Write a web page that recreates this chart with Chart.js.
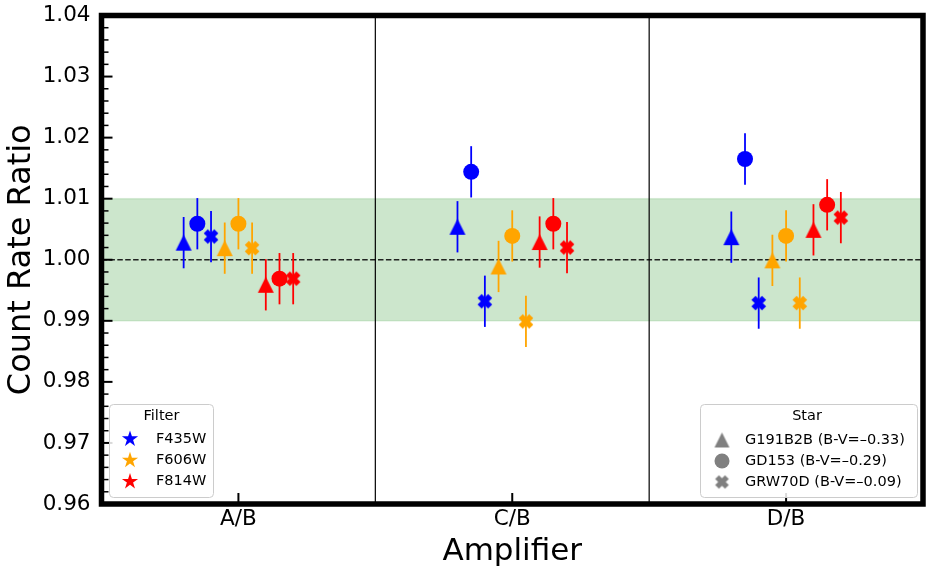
<!DOCTYPE html>
<html>
<head>
<meta charset="utf-8">
<script src="https://cdn.jsdelivr.net/npm/chart.js@4/dist/chart.umd.min.js"></script>
<style>
  html, body { margin: 0; padding: 0; background: #fff; }
  #wrap { width: 933px; height: 576px; position: relative; }
</style>
</head>
<body>
<div id="wrap"><canvas id="chart"></canvas></div>
<script>
// Categories
const amplifiers = ["A/B", "C/B", "D/B"];
const filters = ["F435W", "F606W", "F814W"];
const filterColors = ["#0000ff", "#ffa500", "#ff0000"];
const stars = ["G191B2B (B-V=–0.33)", "GD153 (B-V=–0.29)", "GRW70D (B-V=–0.09)"];

// Count rate ratio per amplifier (A/B, C/B, D/B)
const f435wG191b2b = [1.0028, 1.0054, 1.0037];
const f435wGd153 = [1.0059, 1.0144, 1.0165];
const f435wGrw70d = [1.0038, 0.9932, 0.9929];
const f606wG191b2b = [1.0019, 0.9989, 0.9999];
const f606wGd153 = [1.0059, 1.0039, 1.0039];
const f606wGrw70d = [1.0019, 0.9899, 0.9929];
const f814wG191b2b = [0.9959, 1.0029, 1.0049];
const f814wGd153 = [0.9969, 1.0059, 1.0090];
const f814wGrw70d = [0.9969, 1.0020, 1.0069];

// 1-sigma errors
const f435wErr = [0.0042, 0.0042, 0.0042];
const f606wErr = [0.0042, 0.0042, 0.0042];
const f814wErr = [0.0042, 0.0042, 0.0042];

const ratios = [
  [f435wG191b2b, f435wGd153, f435wGrw70d],
  [f606wG191b2b, f606wGd153, f606wGrw70d],
  [f814wG191b2b, f814wGd153, f814wGrw70d],
];
const errors = [f435wErr, f606wErr, f814wErr];

const bandRange = [0.99, 1.01];
const refLine = 1.0;
const separators = [0.5, 1.5];

// marker images
function triangleImg(color, s) {
  const c = document.createElement("canvas");
  c.width = s + 2; c.height = s + 2;
  const g = c.getContext("2d");
  g.fillStyle = color;
  g.beginPath();
  g.moveTo(1 + s / 2, 1);
  g.lineTo(1, 1 + s);
  g.lineTo(1 + s, 1 + s);
  g.closePath();
  g.fill();
  return c;
}
function crossImg(color, s) {
  const c = document.createElement("canvas");
  c.width = s + 2; c.height = s + 2;
  const g = c.getContext("2d");
  const m = s * 0.17 + 1, n = s + 1 - s * 0.17;
  g.strokeStyle = color;
  g.lineWidth = s * 0.36;
  g.lineCap = "butt";
  g.beginPath();
  g.moveTo(m, m); g.lineTo(n, n);
  g.moveTo(n, m); g.lineTo(m, n);
  g.stroke();
  return c;
}
function drawStar(ctx, x, y, r, color) {
  ctx.fillStyle = color;
  ctx.beginPath();
  for (let k = 0; k < 10; k++) {
    const rr = k % 2 === 0 ? r : r * 0.382;
    const ang = -Math.PI / 2 + k * Math.PI / 5;
    const px = x + rr * Math.cos(ang), py = y + rr * Math.sin(ang);
    if (k === 0) ctx.moveTo(px, py); else ctx.lineTo(px, py);
  }
  ctx.closePath();
  ctx.fill();
}

const datasets = [];
filters.forEach((f, fi) => {
  stars.forEach((s, si) => {
    const off = (fi * 3 + si - 4) * 0.05;
    const color = filterColors[fi];
    let style = "circle";
    if (si === 0) style = triangleImg(color, 16);
    if (si === 2) style = crossImg(color, 16);
    datasets.push({
      label: f + " " + s,
      data: amplifiers.map((a, ai) => ({ x: ai + off, y: ratios[fi][si][ai] })),
      errors: errors[fi],
      pointStyle: style,
      pointRadius: 8,
      pointHoverRadius: 8,
      backgroundColor: color,
      borderColor: color,
      borderWidth: 0,
    });
  });
});

const isMajor = (v) => Math.abs(v * 100 - Math.round(v * 100)) < 1e-6;

const FONT = "'DejaVu Sans', sans-serif";

function legendBox(ctx, x, y, w, h, title, titleX, rows) {
  ctx.save();
  ctx.fillStyle = "rgba(255,255,255,0.85)";
  ctx.strokeStyle = "#cccccc";
  ctx.lineWidth = 1;
  ctx.beginPath();
  ctx.roundRect(x + 0.5, y + 0.5, w, h, 4);
  ctx.fill();
  ctx.stroke();
  ctx.fillStyle = "#000";
  ctx.font = "14.5px " + FONT;
  ctx.textBaseline = "middle";
  ctx.textAlign = "center";
  ctx.fillText(title, titleX, y + 12);
  ctx.textAlign = "left";
  rows.forEach((r) => {
    r.draw(ctx);
    ctx.fillStyle = "#000";
    ctx.fillText(r.text, r.tx, r.ty);
  });
  ctx.restore();
}

const decor = {
  id: "decor",
  beforeDatasetsDraw(chart) {
    const { ctx, chartArea: a, scales: { x, y } } = chart;
    ctx.save();
    const yTop = y.getPixelForValue(bandRange[1]);
    const yBot = y.getPixelForValue(bandRange[0]);
    ctx.fillStyle = "rgba(0,128,0,0.2)";
    ctx.fillRect(a.left, yTop, a.right - a.left, yBot - yTop);
    ctx.strokeStyle = "rgba(0,128,0,0.12)";
    ctx.lineWidth = 1.5;
    ctx.strokeRect(a.left, yTop, a.right - a.left, yBot - yTop);

    ctx.strokeStyle = "#000";
    ctx.lineWidth = 1.2;
    separators.forEach((v) => {
      const px = x.getPixelForValue(v);
      ctx.beginPath();
      ctx.moveTo(px, a.top);
      ctx.lineTo(px, a.bottom);
      ctx.stroke();
    });

    const py = y.getPixelForValue(refLine);
    ctx.strokeStyle = "rgba(0,0,0,0.85)";
    ctx.lineWidth = 1.6;
    ctx.setLineDash([5.5, 2.4]);
    ctx.beginPath();
    ctx.moveTo(a.left, py);
    ctx.lineTo(a.right, py);
    ctx.stroke();
    ctx.setLineDash([]);

    // error bars
    ctx.lineWidth = 1.8;
    chart.data.datasets.forEach((ds, i) => {
      const meta = chart.getDatasetMeta(i);
      ctx.strokeStyle = ds.borderColor;
      meta.data.forEach((pt, j) => {
        const v = ds.data[j].y, e = ds.errors[j];
        ctx.beginPath();
        ctx.moveTo(pt.x, y.getPixelForValue(v + e));
        ctx.lineTo(pt.x, y.getPixelForValue(v - e));
        ctx.stroke();
      });
    });
    ctx.restore();
  },
  afterDraw(chart) {
    const { ctx, chartArea: a, scales: { x, y } } = chart;
    ctx.save();
    // inward ticks
    ctx.strokeStyle = "#000";
    y.ticks.forEach((t) => {
      const py = y.getPixelForValue(t.value);
      const major = isMajor(t.value);
      ctx.lineWidth = major ? 2 : 1.5;
      ctx.beginPath();
      ctx.moveTo(a.left, py);
      ctx.lineTo(a.left + (major ? 11 : 7), py);
      ctx.stroke();
    });
    x.ticks.forEach((t) => {
      const px = x.getPixelForValue(t.value);
      ctx.lineWidth = 2;
      ctx.beginPath();
      ctx.moveTo(px, a.bottom);
      ctx.lineTo(px, a.bottom - 11);
      ctx.stroke();
    });
    // frame
    ctx.lineWidth = 5.5;
    ctx.strokeRect(a.left, a.top, a.right - a.left, a.bottom - a.top);
    ctx.restore();

    // legends
    legendBox(ctx, 109, 404, 104, 93, "Filter", 161.5,
      filters.map((f, fi) => ({
        text: f, tx: 156, ty: 439 + fi * 21.3,
        draw: (c) => drawStar(c, 130, 439 + fi * 21.3, 8.5, filterColors[fi]),
      })));
    const gray = "#808080";
    const grayMarks = [triangleImg(gray, 15), null, crossImg(gray, 15)];
    legendBox(ctx, 700, 404, 217, 93, "Star", 807,
      stars.map((s, si) => ({
        text: s, tx: 745, ty: 440 + si * 21,
        draw: (c) => {
          const cy = 440 + si * 21;
          if (si === 1) {
            c.fillStyle = gray;
            c.beginPath();
            c.arc(722, cy, 7.5, 0, Math.PI * 2);
            c.fill();
          } else {
            const img = grayMarks[si];
            c.drawImage(img, 722 - img.width / 2, cy - img.height / 2);
          }
        },
      })));
  },
};

new Chart(document.getElementById("chart"), {
  type: "scatter",
  data: { datasets },
  options: {
    responsive: true,
    maintainAspectRatio: false,
    animation: false,
    layout: { padding: { top: 15.5, right: 10, left: 0, bottom: 0 } },
    plugins: { legend: { display: false }, tooltip: { enabled: false } },
    scales: {
      x: {
        type: "linear",
        min: -0.5,
        max: 2.5,
        afterBuildTicks: (s) => { s.ticks = amplifiers.map((a, i) => ({ value: i })); },
        afterFit: (s) => { s.height = 72; s.paddingLeft = 0; s.paddingRight = 0; },
        grid: { display: false, drawTicks: false },
        border: { display: false },
        ticks: {
          autoSkip: false,
          maxRotation: 0,
          padding: 3,
          color: "#000",
          font: { family: FONT, size: 21.5 },
          callback: (v) => amplifiers[Math.round(v)],
        },
        title: {
          display: true,
          text: "Amplifier",
          color: "#000",
          font: { family: FONT, size: 31 },
          padding: { top: 0, bottom: 5 },
        },
      },
      y: {
        min: 0.96,
        max: 1.04,
        afterFit: (s) => { s.width = 101.5; s.paddingTop = 0; s.paddingBottom = 0; },
        grid: { display: false, drawTicks: false },
        border: { display: false },
        ticks: {
          stepSize: 0.002,
          autoSkip: false,
          padding: 11,
          color: "#000",
          font: { family: FONT, size: 21.5 },
          callback: (v) => (isMajor(v) ? v.toFixed(2) : ""),
        },
        title: {
          display: true,
          text: "Count Rate Ratio",
          color: "#000",
          font: { family: FONT, size: 32 },
          padding: { top: 2, bottom: 0 },
        },
      },
    },
  },
  plugins: [decor],
});
</script>
</body>
</html>
